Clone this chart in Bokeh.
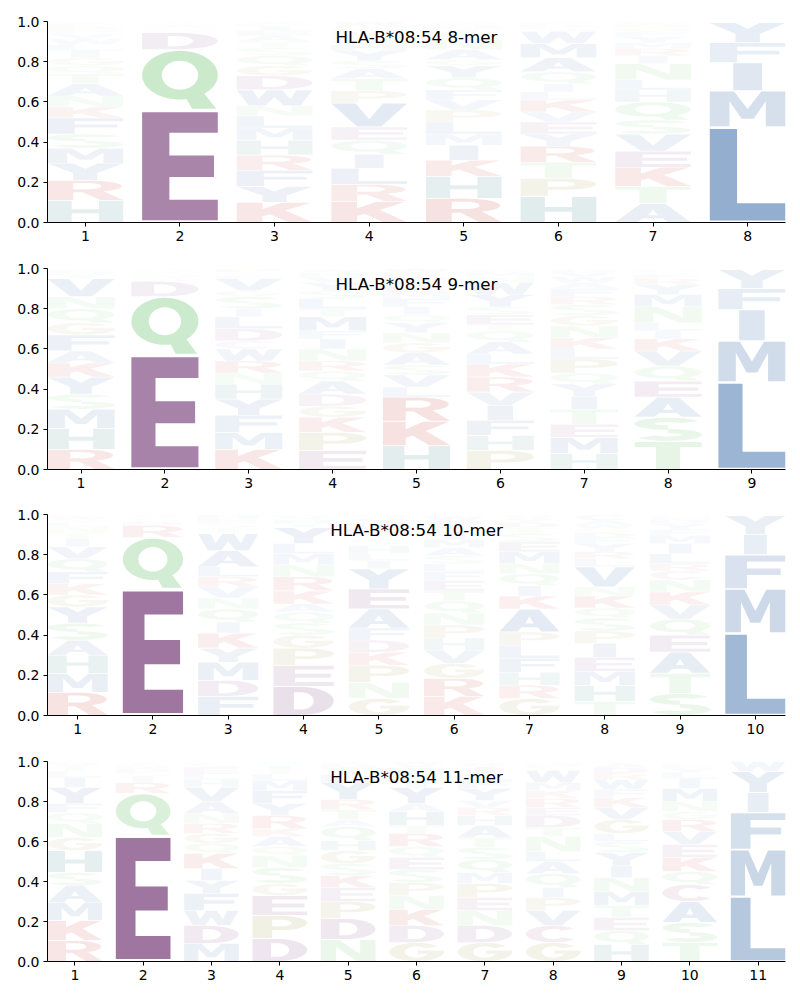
import numpy as np
from bokeh.plotting import figure
from bokeh.layouts import column
from bokeh.models import Range1d, FixedTicker, PrintfTickFormatter, Label, ColumnDataSource
from bokeh.embed import file_html
from bokeh.resources import INLINE

ALLELE = "HLA-B*08:54"
LENGTHS = [8, 9, 10, 11]

# letters listed bottom -> top for every position, with their frequencies
MER8_LETTERS = ["HRYMSFKNATQGILWVPDEC", "EQDSNAGT", "KYFRHMLNWDGQSTAEIPV",
                "KRLIQEVPTASYHGFDMNW", "RHKIMLPVFQYGANSTDEW", "HPTRYEVKLIQAMWSDFN",
                "ATKEVSQHLNIRMYFGDWP", "LMIFYV"]
MER8_HEIGHTS = [
    [.11, .10, .085, .075, .07, .08, .055, .055, .06, .05, .04, .04, .035, .03, .03, .025, .02, .015, .015, .01],
    [.56, .30, .085, .015, .012, .01, .008, .01],
    [.10, .08, .08, .075, .075, .06, .06, .05, .08, .07, .05, .05, .04, .03, .03, .025, .02, .015, .01],
    [.105, .085, .08, .07, .07, .065, .12, .06, .06, .05, .04, .05, .03, .025, .02, .02, .015, .015, .02],
    [.12, .11, .08, .075, .055, .06, .06, .05, .05, .06, .06, .03, .05, .05, .03, .025, .015, .01, .01],
    [.13, .09, .08, .08, .06, .06, .05, .06, .04, .04, .06, .07, .07, .06, .02, .015, .01, .005],
    [.095, .085, .095, .08, .085, .07, .09, .06, .05, .08, .04, .035, .03, .03, .025, .02, .015, .01, .005],
    [.475, .18, .14, .10, .10, .005],
]

MER9_LETTERS = ["RHMSYKAFGQNVTDEI", "EQDSNTGA", "KMFYHNRWCDLISGVETAP",
                "EPKGDAQRNIFMTLSYVHWC", "HKRLVSAGNYQIFMETDPW", "PHFIVRKLAQTESYWNMGD",
                "HMETIYQPLKNGSRFAWVDC", "TSAEQVKILNMYRFGDH", "LMIFYW"]
MER9_HEIGHTS = [
    [.10, .105, .095, .075, .085, .07, .06, .08, .06, .07, .06, .09, .02, .015, .01, .005],
    [.57, .29, .075, .02, .015, .01, .01, .01],
    [.10, .085, .085, .08, .075, .055, .06, .06, .04, .06, .06, .04, .06, .03, .06, .015, .01, .005, .02],
    [.095, .09, .075, .055, .06, .065, .05, .05, .06, .05, .04, .07, .04, .05, .04, .04, .03, .02, .015, .005],
    [.12, .12, .12, .05, .06, .05, .06, .05, .05, .05, .04, .04, .04, .03, .03, .03, .02, .02, .02],
    [.095, .075, .075, .075, .065, .075, .065, .05, .06, .055, .03, .05, .04, .06, .06, .03, .02, .015, .005],
    [.08, .08, .065, .075, .065, .06, .055, .07, .05, .055, .06, .05, .055, .04, .04, .03, .03, .02, .015, .005],
    [.14, .12, .10, .08, .075, .075, .06, .04, .04, .08, .06, .05, .03, .02, .01, .01, .01],
    [.435, .205, .155, .105, .095, .005],
]

MER10_LETTERS = ["RMHASYGKFQVITNLEDWC", "EQRDSNA", "FDMYKIQNVRLAWTSEH",
                 "DEPGSQAKRNMLYTHVF", "GNPKDFAEYILHSTRMVQ", "KRGVHPNQTEFLSAMIYDWC",
                 "GRHFLPAKIQNMESTDYVW", "THMEIPSQKNVLRYFDGWAC", "STAEQVKNCRLIMFYDHG", "LMFIYW"]
MER10_HEIGHTS = [
    [.115, .095, .09, .075, .085, .08, .06, .055, .06, .065, .06, .04, .03, .03, .02, .01, .005, .015, .01],
    [.63, .255, .06, .02, .015, .01, .01],
    [.095, .08, .09, .07, .075, .055, .065, .055, .055, .05, .05, .08, .085, .03, .025, .02, .02],
    [.145, .105, .085, .065, .06, .055, .04, .065, .07, .06, .055, .05, .08, .02, .02, .015, .01],
    [.085, .08, .085, .065, .06, .06, .095, .10, .10, .04, .035, .04, .03, .03, .03, .025, .02, .02],
    [.095, .09, .075, .065, .06, .065, .06, .06, .05, .05, .045, .04, .04, .04, .04, .04, .03, .025, .02, .01],
    [.085, .065, .065, .07, .065, .065, .115, .065, .05, .06, .05, .06, .05, .04, .03, .025, .02, .015, .005],
    [.07, .08, .07, .07, .07, .06, .065, .05, .06, .045, .10, .04, .035, .04, .03, .025, .02, .02, .02, .03],
    [.11, .10, .105, .085, .08, .07, .065, .06, .045, .035, .05, .05, .04, .03, .03, .02, .015, .01],
    [.41, .22, .17, .10, .095, .005],
]

MER11_LETTERS = ["RKMASHGNQFYILTVE", "EQRISDNAT", "MDWFYIKQGRNAVHLEST",
                 "DPEGSNQAKRYFMLTIHV", "NDPEKSGHQATRYLIMFV", "GDKNPSEQRTHAYILFMVW",
                 "GDNEPMQSTAHRVYFLIKWC", "GCVPIQALNTDERKMWSHY", "HQETMNIYSLGVKFWRDAP",
                 "TSACQKEVRGNMILYFDH", "LMFIYW"]
MER11_HEIGHTS = [
    [.105, .10, .09, .085, .065, .11, .065, .07, .055, .045, .08, .05, .03, .025, .015, .01],
    [.63, .21, .055, .03, .02, .02, .015, .01, .01],
    [.09, .09, .075, .085, .065, .06, .075, .05, .05, .05, .05, .06, .07, .04, .03, .03, .02, .01],
    [.115, .115, .10, .06, .08, .06, .045, .05, .04, .065, .06, .065, .05, .03, .025, .02, .01, .01],
    [.11, .105, .085, .07, .06, .06, .065, .05, .07, .035, .05, .05, .085, .04, .025, .02, .015, .005],
    [.095, .085, .08, .07, .065, .065, .06, .055, .065, .04, .07, .04, .08, .03, .03, .02, .02, .015, .015],
    [.095, .085, .075, .065, .07, .055, .065, .06, .05, .06, .05, .04, .035, .06, .04, .035, .035, .015, .005, .005],
    [.095, .085, .075, .065, .05, .07, .06, .05, .075, .045, .06, .04, .045, .04, .04, .06, .02, .015, .01],
    [.085, .07, .065, .06, .07, .07, .06, .065, .055, .04, .07, .06, .05, .04, .05, .03, .03, .02, .01],
    [.095, .10, .105, .085, .065, .07, .065, .065, .06, .04, .05, .065, .05, .03, .02, .015, .01, .01],
    [.325, .235, .185, .10, .105, .05],
]

PANELS = [(8, MER8_LETTERS, MER8_HEIGHTS), (9, MER9_LETTERS, MER9_HEIGHTS),
          (10, MER10_LETTERS, MER10_HEIGHTS), (11, MER11_LETTERS, MER11_HEIGHTS)]

GROUP_COLORS = {
    "DE": (138, 88, 139),
    "AVLIMFWY": (81, 124, 178),
    "STNQ": (120, 200, 122),
    "KR": (205, 70, 70),
    "H": (80, 140, 140),
    "GP": (160, 155, 80),
    "C": (170, 95, 150),
}


def letter_color(ch):
    for grp, rgb in GROUP_COLORS.items():
        if ch in grp:
            return "#%02x%02x%02x" % rgb
    return "#888888"


# ---- letter outline templates in the unit square ----
def arc(cx, cy, rx, ry, a0, a1, step=5):
    n = int(round(abs(a1 - a0) / step)) + 1
    a = np.radians(np.linspace(a0, a1, n))
    return list(zip(cx + rx * np.cos(a), cy + ry * np.sin(a)))


def _area(pts):
    x = np.array([p[0] for p in pts])
    y = np.array([p[1] for p in pts])
    return 0.5 * np.sum(x * np.roll(y, -1) - np.roll(x, -1) * y)


def _orient(pts, ccw):
    return pts if (_area(pts) > 0) == ccw else pts[::-1]


def poly(outer, *holes):
    return [_orient(outer, True)] + [_orient(h, False) for h in holes]


def ring(cx, cy, rxo, ryo, rxi, ryi, a0, a1):
    return arc(cx, cy, rxo, ryo, a0, a1) + arc(cx, cy, rxi, ryi, a1, a0)


GLYPHS = {
    "A": [poly([(0, 0), (.3, 0), (.37, .2), (.63, .2), (.7, 0), (1, 0), (.66, 1), (.34, 1)],
               [(.43, .37), (.57, .37), (.5, .68)])],
    "C": [poly(ring(.5, .5, .5, .5, .21, .31, 40, 320))],
    "D": [poly([(0, 0), (.45, 0)] + arc(.45, .5, .55, .5, -90, 90) + [(0, 1)],
               [(.34, .19), (.45, .19)] + arc(.45, .5, .22, .31, -90, 90) + [(.34, .81)])],
    "E": [poly([(0, 0), (1, 0), (1, .19), (.36, .19), (.36, .40), (.95, .40), (.95, .60),
                (.36, .60), (.36, .81), (1, .81), (1, 1), (0, 1)])],
    "F": [poly([(0, 0), (.36, 0), (.36, .40), (.92, .40), (.92, .60), (.36, .60),
                (.36, .81), (1, .81), (1, 1), (0, 1)])],
    "G": [poly(ring(.5, .5, .5, .5, .21, .31, 40, 360)),
          poly([(.52, .40), (.70, .40), (.71, .5), (1, .5), (1, .58), (.52, .58)])],
    "H": [poly([(0, 0), (.32, 0), (.32, .41), (.68, .41), (.68, 0), (1, 0), (1, 1),
                (.68, 1), (.68, .6), (.32, .6), (.32, 1), (0, 1)])],
    "I": [poly([(.31, 0), (.69, 0), (.69, 1), (.31, 1)])],
    "K": [poly([(0, 0), (.34, 0), (.34, .30), (.44, .41), (.68, 0), (1, 0), (.64, .6),
                (.98, 1), (.6, 1), (.34, .68), (.34, 1), (0, 1)])],
    "L": [poly([(0, 0), (1, 0), (1, .19), (.36, .19), (.36, 1), (0, 1)])],
    "M": [poly([(0, 0), (.26, 0), (.26, .72), (.42, .22), (.58, .22), (.74, .72), (.74, 0),
                (1, 0), (1, 1), (.68, 1), (.5, .5), (.32, 1), (0, 1)])],
    "N": [poly([(0, 0), (.28, 0), (.28, .66), (.66, 0), (1, 0), (1, 1), (.72, 1),
                (.72, .34), (.34, 1), (0, 1)])],
    "P": [poly([(0, 0), (.36, 0), (.36, .36), (.55, .36)] + arc(.55, .68, .45, .32, -90, 90) + [(0, 1)],
               [(.36, .53), (.52, .53)] + arc(.52, .68, .2, .15, -90, 90) + [(.36, .83)])],
    "Q": [poly(arc(.5, .58, .5, .42, 0, 360), arc(.5, .58, .24, .25, 0, 360)),
          poly(arc(.5, .58, .5, .42, 310, 280) + [(.66, 0), (.98, 0)])],
    "R": [poly([(0, 0), (.34, 0), (.34, .40), (.46, .40), (.70, 0), (1, 0), (.74, .45)]
               + arc(.55, .71, .43, .29, -50, 90) + [(0, 1)],
               [(.34, .56), (.52, .56)] + arc(.52, .72, .19, .16, -90, 90) + [(.34, .88)])],
    "S": [poly(ring(.5, .74, .5, .26, .2, .07, 25, 270)),
          poly(ring(.5, .26, .5, .26, .2, .07, 90, -155))],
    "T": [poly([(.32, 0), (.68, 0), (.68, .81), (1, .81), (1, 1), (0, 1), (0, .81), (.32, .81)])],
    "V": [poly([(.34, 0), (.66, 0), (1, 1), (.68, 1), (.5, .32), (.32, 1), (0, 1)])],
    "W": [poly([(.16, 0), (.38, 0), (.5, .56), (.62, 0), (.84, 0), (1, 1), (.79, 1), (.71, .42),
                (.6, 1), (.4, 1), (.29, .42), (.21, 1), (0, 1)])],
    "Y": [poly([(.34, 0), (.66, 0), (.66, .42), (1, 1), (.66, 1), (.5, .68), (.34, 1),
                (0, 1), (.34, .42)])],
}


def place(ch, x, y0, h):
    m = 0.02 * h
    xs, ys = [], []
    for polygon in GLYPHS[ch]:
        px, py = [], []
        for r in polygon:
            px.append([x - 0.4 + 0.8 * u for u, v in r])
            py.append([y0 + m + (h - 2 * m) * v for u, v in r])
        xs.append(px)
        ys.append(py)
    return xs, ys


FONT = "DejaVu Sans"
FIG_HEIGHTS = [247, 246, 247, 260]
PLOT_H = [201, 201, 201, 200]

figs = []
for (n, letters, heights), H, ph in zip(PANELS, FIG_HEIGHTS, PLOT_H):
    p = figure(width=800, height=H, x_range=Range1d(0.6, n + 0.4), y_range=Range1d(0, 1),
               output_backend="svg", toolbar_location=None,
               min_border_left=47, min_border_right=15, min_border_top=21,
               min_border_bottom=H - 21 - ph)
    p.outline_line_color = None
    p.grid.visible = False
    p.background_fill_color = "white"

    XS, YS, COL, ALPHA = [], [], [], []
    for pos, (letstr, hs) in enumerate(zip(letters, heights), start=1):
        y = 0.0
        for ch, h in zip(letstr, hs):
            xs, ys = place(ch, pos, y, h)
            XS.append(xs)
            YS.append(ys)
            COL.append(letter_color(ch))
            ALPHA.append(min(1.0, 1.3 * h))
            y += h
    src = ColumnDataSource(dict(xs=XS, ys=YS, color=COL, alpha=ALPHA))
    p.multi_polygons(xs="xs", ys="ys", fill_color="color", fill_alpha="alpha",
                     line_color=None, source=src)

    p.xaxis.ticker = FixedTicker(ticks=list(range(1, n + 1)))
    p.yaxis.ticker = FixedTicker(ticks=[0, 0.2, 0.4, 0.6, 0.8, 1.0])
    p.yaxis.formatter = PrintfTickFormatter(format="%.1f")
    for ax in (p.xaxis[0], p.yaxis[0]):
        ax.axis_line_color = "black"
        ax.axis_line_width = 1
        ax.major_tick_in = 0
        ax.major_tick_out = 4
        ax.minor_tick_in = 0
        ax.minor_tick_out = 0
        ax.major_label_standoff = 4
        ax.major_label_text_font = FONT
        ax.major_label_text_font_size = "14px"
        ax.major_label_text_color = "black"

    p.add_layout(Label(x=(n + 1) / 2, y=0.925, text=f"{ALLELE} {n}-mer",
                       text_align="center", text_baseline="middle",
                       text_font=FONT, text_font_size="16.7px", text_color="black"))
    figs.append(p)

layout = column(*figs, spacing=0)
open("out.html", "w").write(file_html(layout, INLINE))
